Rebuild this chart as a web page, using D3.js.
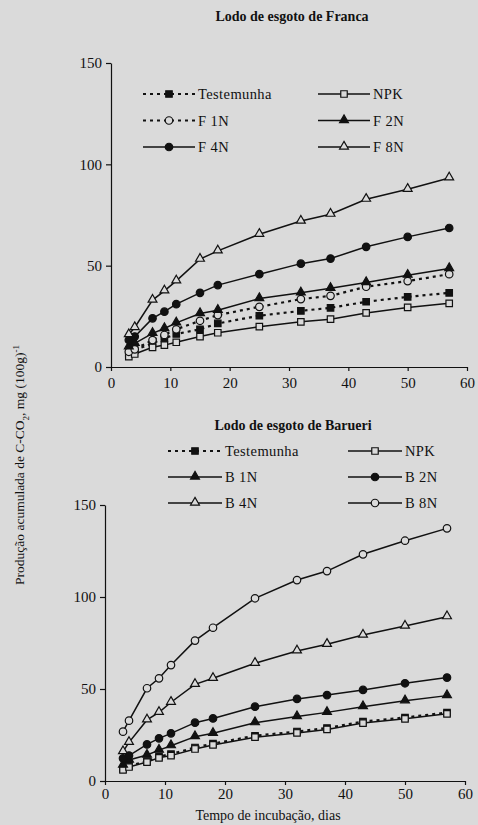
<!DOCTYPE html>
<html>
<head>
<meta charset="utf-8">
<script src="https://cdn.jsdelivr.net/npm/d3@7"></script>
<style>
  html, body { margin: 0; padding: 0; background: #dadada; }
  svg { display: block; }
  text { font-family: "Liberation Serif", "Times New Roman", serif; fill: #111; }
</style>
</head>
<body>
<div id="chart"></div>
<script>
// incubation days shared by both panels
const days = [3, 4, 7, 9, 11, 15, 18, 25, 32, 37, 43, 50, 57];
const xTicks = [0, 10, 20, 30, 40, 50, 60];
const yTicks = [0, 50, 100, 150];

// Franca sludge
const francaTest = [6.7, 8.4, 11.7, 14.1, 16.3, 18.6, 21.5, 25.3, 27.7, 29.2, 32.2, 34.6, 36.6];
const francaNPK  = [5.1, 6.4, 9.7, 10.8, 12.2, 15.0, 16.9, 19.9, 22.3, 23.6, 26.7, 29.4, 31.4];
const franca1N   = [7.5, 8.7, 13.3, 15.8, 18.6, 22.8, 25.6, 29.7, 33.5, 35.1, 39.6, 42.4, 45.8];
const franca2N   = [10.0, 11.7, 16.6, 19.0, 21.8, 26.4, 28.0, 33.8, 36.6, 38.8, 41.7, 45.3, 48.6];
const franca4N   = [13.3, 15.0, 24.0, 27.3, 31.0, 36.6, 40.4, 45.8, 51.0, 53.5, 59.3, 64.2, 68.6];
const franca8N   = [16.0, 19.5, 33.0, 37.6, 42.5, 53.2, 57.3, 65.5, 72.0, 75.4, 82.8, 87.7, 93.3];

// Barueri sludge
const barueriTest = [6.6, 8.2, 10.8, 13.3, 14.6, 18.2, 20.3, 24.6, 26.9, 28.8, 32.3, 34.5, 37.2];
const barueriNPK  = [6.0, 7.6, 10.3, 12.6, 13.8, 17.4, 19.6, 23.8, 26.1, 28.0, 31.5, 33.8, 36.5];
const barueri1N   = [8.7, 11.4, 14.1, 16.8, 19.2, 24.1, 25.9, 31.7, 35.0, 37.3, 40.4, 43.6, 46.4];
const barueri2N   = [12.3, 13.8, 19.9, 23.2, 25.9, 31.7, 34.0, 40.4, 44.6, 46.7, 49.5, 53.1, 56.2];
const barueri4N   = [16.0, 21.0, 33.2, 37.3, 42.8, 52.5, 55.8, 64.0, 70.7, 74.3, 79.3, 84.2, 89.3];
const barueri8N   = [26.8, 32.8, 50.4, 55.8, 63.0, 76.3, 83.3, 99.3, 109.2, 114.1, 123.2, 130.6, 137.3];

const bg = "#dadada";
const ink = "#111";

const W = 478, H = 825;
const svg = d3.select("#chart").append("svg")
    .attr("width", W)
    .attr("height", H);

const symbols = {
    square: d3.symbolSquare,
    circle: d3.symbolCircle,
    triangle: d3.symbolTriangle
};

function drawMarker(g, x, y, s) {
    const size = s.shape === "triangle" ? 34 : (s.shape === "circle" ? 44 : 42);
    g.append("path")
        .attr("d", d3.symbol(symbols[s.shape], size)())
        .attr("transform", `translate(${x},${s.shape === "triangle" ? y - 0.5 : y})`)
        .attr("fill", s.filled ? ink : bg)
        .attr("stroke", ink)
        .attr("stroke-width", 1.2);
}

function drawPanel(p) {
    const g = svg.append("g");

    const x = d3.scaleLinear().domain([0, 60]).range([p.left, p.right]);
    const y = d3.scaleLinear().domain([0, 150]).range([p.bottom, p.top]);

    // axes
    const xAxis = g.append("g")
        .attr("transform", `translate(0,${p.bottom})`)
        .call(d3.axisBottom(x).tickValues(xTicks).tickSize(4).tickPadding(p.xPad).tickSizeOuter(0));
    const yAxis = g.append("g")
        .attr("transform", `translate(${p.left},0)`)
        .call(d3.axisLeft(y).tickValues(yTicks).tickSize(5).tickPadding(4).tickSizeOuter(0));
    [xAxis, yAxis].forEach(a => {
        a.select(".domain").attr("stroke", ink).attr("stroke-width", 1.2);
        a.selectAll(".tick line").attr("stroke", ink).attr("stroke-width", 1.2);
        a.selectAll(".tick text")
            .style("font-family", "Liberation Serif")
            .style("font-size", "15px")
            .attr("fill", ink);
    });

    // series lines and markers
    p.series.forEach(s => {
        const pts = days.map((d, i) => [d, s.values[i]]);
        g.append("path")
            .datum(pts)
            .attr("fill", "none")
            .attr("stroke", ink)
            .attr("stroke-width", s.dashed ? 2.2 : 1.5)
            .attr("stroke-dasharray", s.dashed ? "3,4" : null)
            .attr("d", d3.line().x(d => x(d[0])).y(d => y(d[1])));
    });
    p.series.forEach(s => {
        days.forEach((d, i) => drawMarker(g, x(d), y(s.values[i]), s));
    });

    // title
    g.append("text")
        .attr("x", p.titleX)
        .attr("y", p.titleY)
        .attr("text-anchor", "middle")
        .style("font-size", "14px")
        .style("font-weight", "bold")
        .text(p.title);

    // legend, two columns
    p.series.forEach((s, i) => {
        const col = i % 2, row = Math.floor(i / 2);
        const lx = p.legendCols[col], ly = p.legendY + row * p.legendStep;
        const lg = g.append("g");
        lg.append("line")
            .attr("x1", lx).attr("x2", lx + p.legendLen)
            .attr("y1", ly).attr("y2", ly)
            .attr("stroke", ink)
            .attr("stroke-width", s.dashed ? 2.2 : 1.5)
            .attr("stroke-dasharray", s.dashed ? "3,4" : null);
        drawMarker(lg, lx + p.legendLen / 2, ly, s);
        lg.append("text")
            .attr("x", lx + p.legendLen + 3)
            .attr("y", ly + 5)
            .style("font-size", "14.5px")
            .style("letter-spacing", "0.4px")
            .text(s.name);
    });
    return { x, y, g };
}

drawPanel({
    left: 111, right: 467, top: 63, bottom: 367, xPad: 6,
    title: "Lodo de esgoto de Franca", titleX: 292, titleY: 21,
    legendCols: [143, 318], legendLen: 52, legendY: 94, legendStep: 26.5,
    series: [
        { name: "Testemunha", values: francaTest, shape: "square", filled: true, dashed: true },
        { name: "NPK", values: francaNPK, shape: "square", filled: false, dashed: false },
        { name: "F 1N", values: franca1N, shape: "circle", filled: false, dashed: true },
        { name: "F 2N", values: franca2N, shape: "triangle", filled: true, dashed: false },
        { name: "F 4N", values: franca4N, shape: "circle", filled: true, dashed: false },
        { name: "F 8N", values: franca8N, shape: "triangle", filled: false, dashed: false }
    ]
});

drawPanel({
    left: 105, right: 465, top: 505, bottom: 781, xPad: 3,
    title: "Lodo de esgoto de  Barueri", titleX: 293, titleY: 430,
    legendCols: [168, 348], legendLen: 54, legendY: 451, legendStep: 26,
    series: [
        { name: "Testemunha", values: barueriTest, shape: "square", filled: true, dashed: true },
        { name: "NPK", values: barueriNPK, shape: "square", filled: false, dashed: false },
        { name: "B 1N", values: barueri1N, shape: "triangle", filled: true, dashed: false },
        { name: "B 2N", values: barueri2N, shape: "circle", filled: true, dashed: false },
        { name: "B 4N", values: barueri4N, shape: "triangle", filled: false, dashed: false },
        { name: "B 8N", values: barueri8N, shape: "circle", filled: false, dashed: false }
    ]
});

// x axis title
svg.append("text")
    .attr("x", 268)
    .attr("y", 820)
    .attr("text-anchor", "middle")
    .style("font-size", "14px")
    .text("Tempo de incubação, dias");

// y axis title
svg.append("text")
    .attr("transform", "translate(24,465) rotate(-90)")
    .attr("text-anchor", "middle")
    .style("font-size", "13.5px")
    .html("Produção acumulada de C-CO<tspan baseline-shift='sub' font-size='9px'>2</tspan>, mg (100g)<tspan baseline-shift='super' font-size='9px'>-1</tspan>");
</script>
</body>
</html>
